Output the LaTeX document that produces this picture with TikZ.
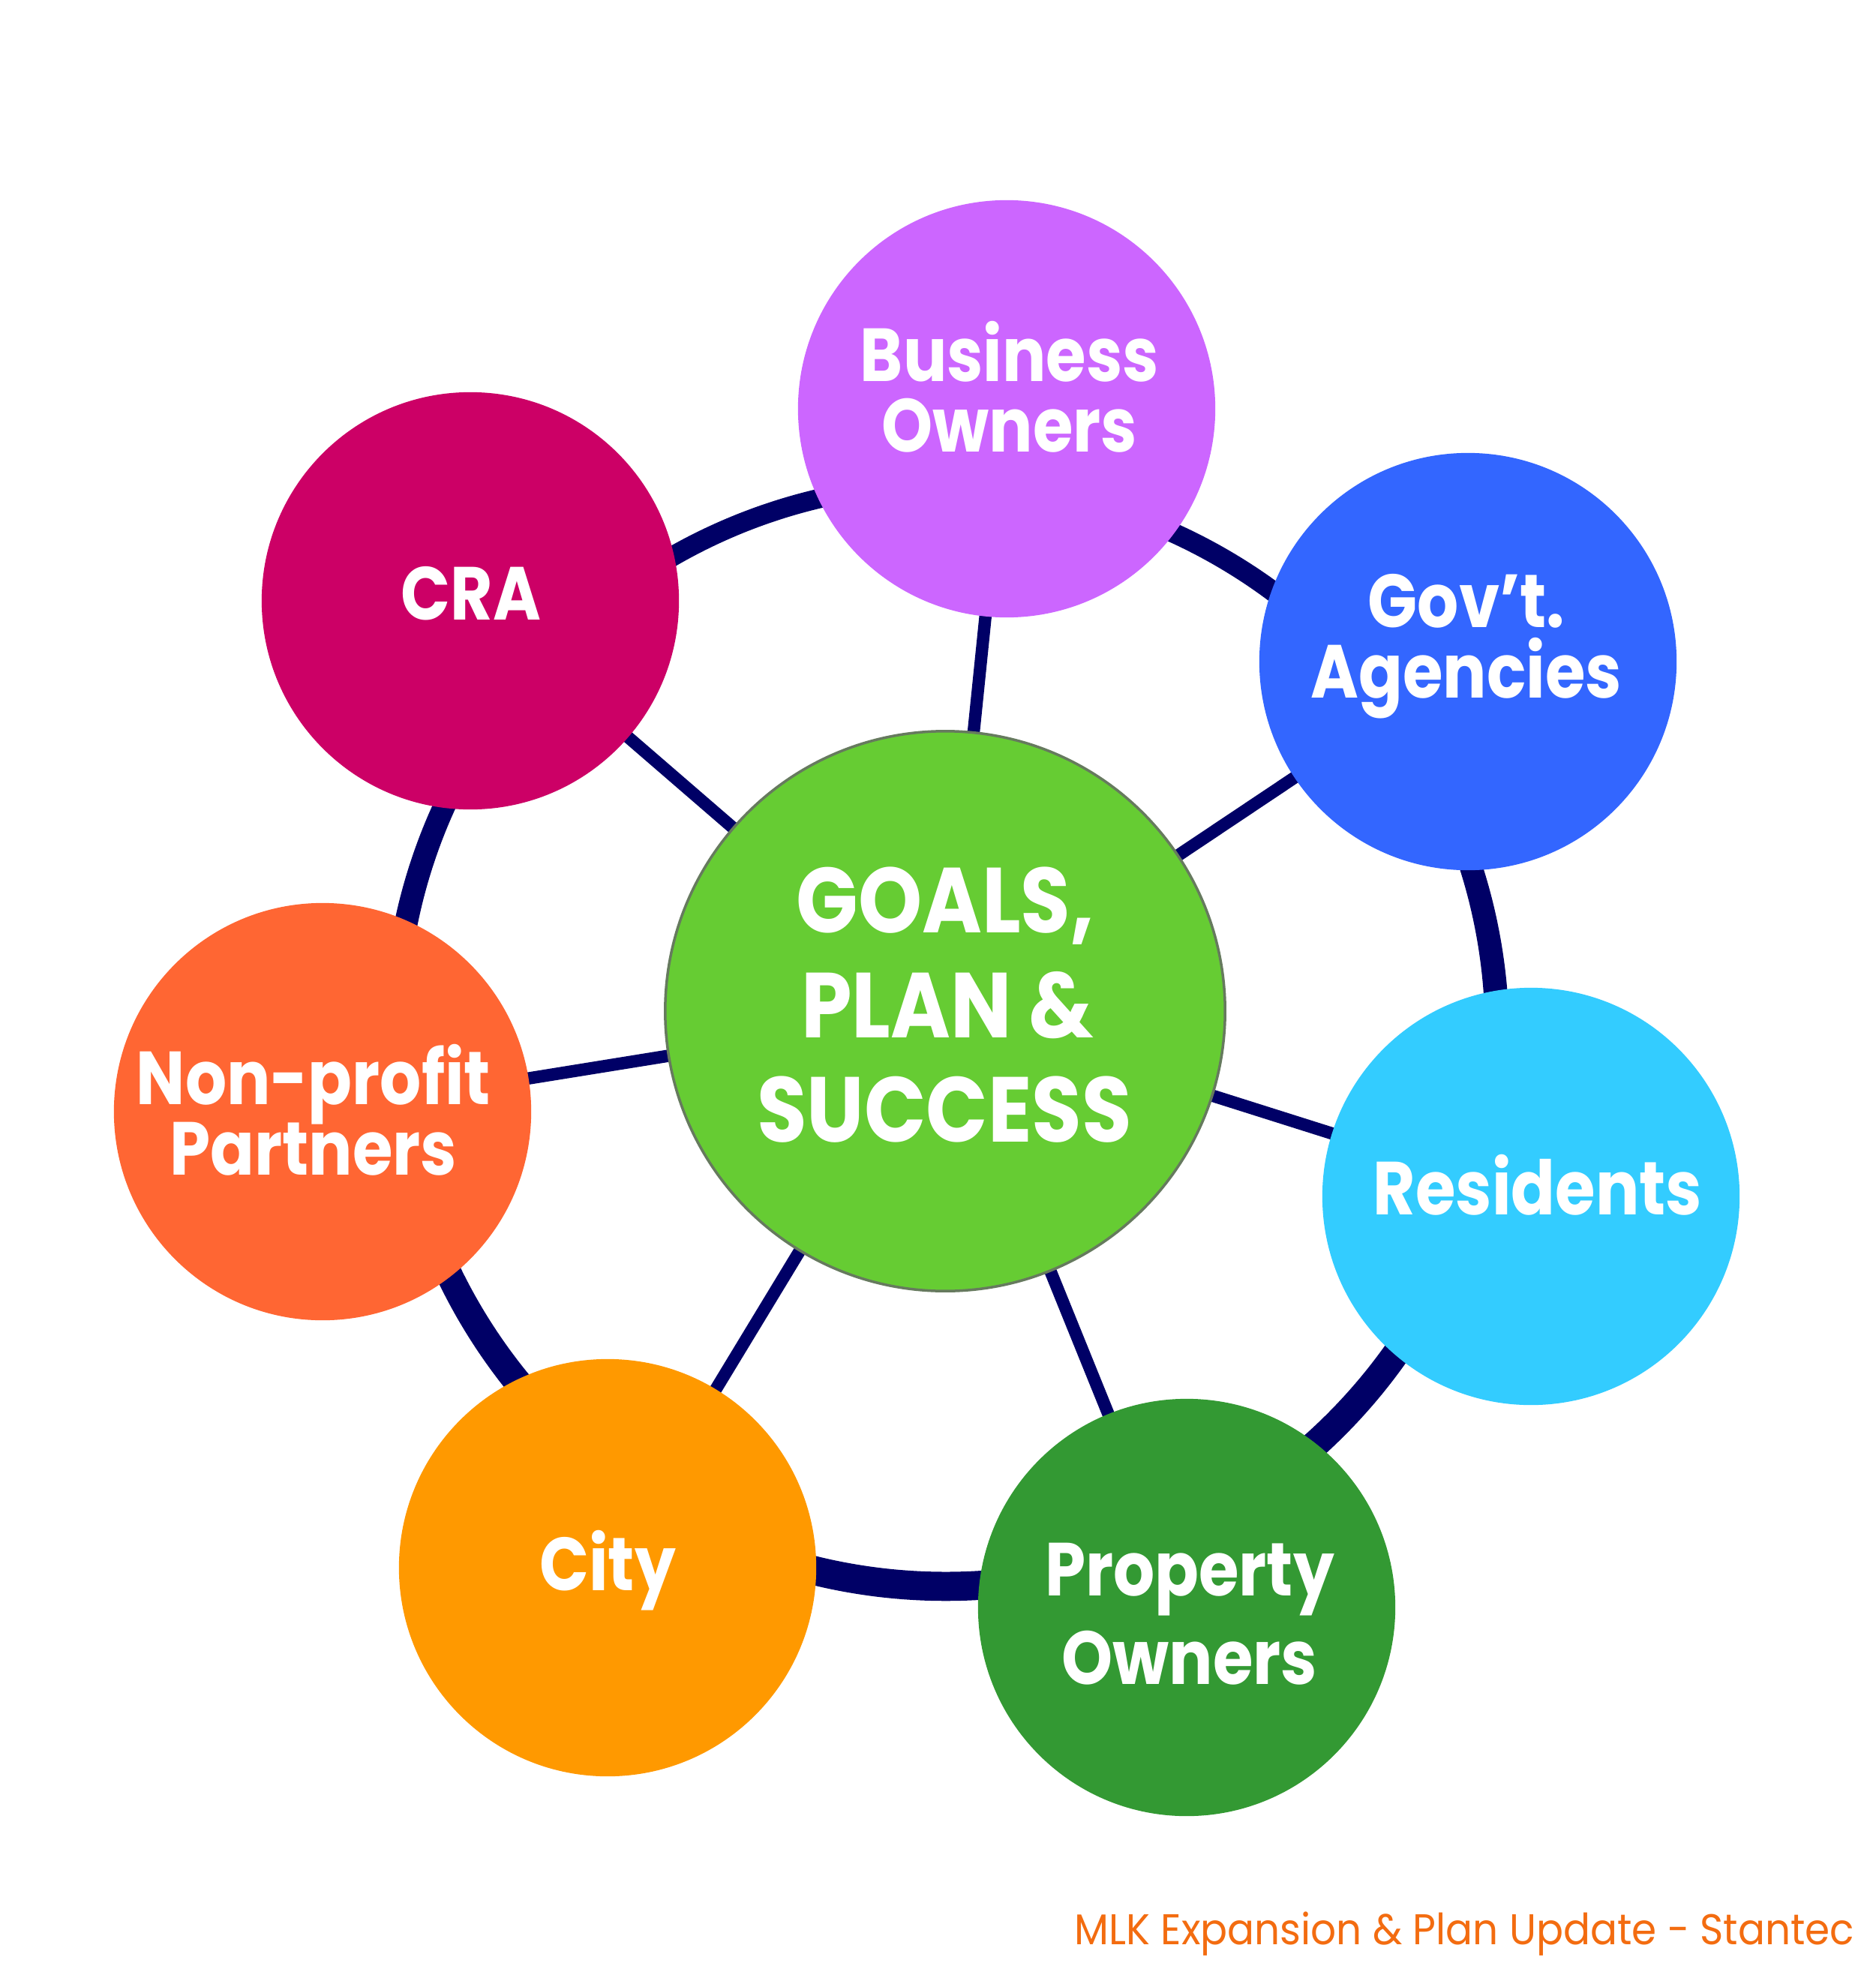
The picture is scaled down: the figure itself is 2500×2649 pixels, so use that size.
\documentclass[tikz,border=0pt]{standalone}
\usepackage{fontspec}
\setmainfont{Poppins}
\newfontfamily\lblfont[FakeStretch=0.865]{Poppins}
\newfontfamily\hubfont[FakeStretch=0.88]{Poppins}
\newfontfamily\footfont[FakeStretch=0.93]{Poppins}
\usetikzlibrary{backgrounds}
\definecolor{navy}{HTML}{000066}
\definecolor{hubgreen}{HTML}{66CC33}
\definecolor{hubedge}{HTML}{667A5E}
\definecolor{cracol}{HTML}{CC0066}
\definecolor{buscol}{HTML}{CC66FF}
\definecolor{govcol}{HTML}{3366FF}
\definecolor{rescol}{HTML}{33CCFF}
\definecolor{propcol}{HTML}{339933}
\definecolor{citycol}{HTML}{FF9900}
\definecolor{npcol}{HTML}{FF6633}
\definecolor{footcol}{HTML}{F36C10}
\begin{document}
\begin{tikzpicture}[x=0.01cm,y=-0.01cm,
  bub/.style={circle, minimum size=5.56cm, inner sep=0pt, draw=none},
  lbl/.style={anchor=base, text=white, inner sep=0pt,
    font=\lblfont\bfseries\fontsize{28.5}{34}\selectfont},
  hublbl/.style={anchor=base, text=white, inner sep=0pt,
    font=\hubfont\bfseries\fontsize{35}{40}\selectfont},
  spoke/.style={draw=navy, line width=0.165cm},
]
\useasboundingbox (0,0) rectangle (2500,2649);

% hub
\node[circle, minimum size=7.46cm, inner sep=0pt, fill=hubgreen, draw=hubedge, line width=0.035cm] (hub) at (1260,1348) {};
% satellites
\node[bub, fill=buscol]  (bus)  at (1342,545)  {};
\node[bub, fill=govcol]  (gov)  at (1957,882)  {};
\node[bub, fill=rescol]  (res)  at (2041,1595) {};
\node[bub, fill=propcol] (prop) at (1582,2143) {};
\node[bub, fill=citycol] (city) at (810,2090)  {};
\node[bub, fill=npcol]   (np)   at (430,1482)  {};
\node[bub, fill=cracol]  (cra)  at (627,801)   {};

% labels
\node[hublbl] (h1) at (1260,1243) {GOALS,};
\node[hublbl] (h2) at (1263,1383) {PLAN \&};
\node[hublbl] (h3) at (1259,1522) {SUCCESS};
\node[lbl] (bus1) at (1346,509) {Business};
\node[lbl] (bus2) at (1346,603) {Owners};
\node[lbl] (gov1) at (1955,836) {Gov’t.};
\node[lbl] (gov2) at (1955,930) {Agencies};
\node[lbl] (cra1) at (628,826) {CRA};
\node[lbl] (np1) at (418,1472) {Non-profit};
\node[lbl] (np2) at (418,1566) {Partners};
\node[lbl] (res1) at (2050,1619) {Residents};
\node[lbl] (prop1) at (1586,2127) {Property};
\node[lbl] (prop2) at (1586,2245) {Owners};
\node[lbl] (city1) at (810,2120) {City};

\node[anchor=base east, text=footcol, inner sep=0pt,
  font=\footfont\fontsize{16.3}{20}\selectfont] (foot) at (2473,2592)
  {MLK Expansion \& Plan Update - Stantec};

\begin{scope}[on background layer]
  \fill[white] (0,0) rectangle (2500,2649);
  \fill[navy, even odd rule] (1261,1383.25) circle[radius=751]
                             (1261,1376.75) circle[radius=718.75];
  \foreach \n in {bus,gov,res,prop,city,np,cra}
    \draw[spoke] (hub.center) -- (\n.center);
\end{scope}
\end{tikzpicture}
\end{document}
